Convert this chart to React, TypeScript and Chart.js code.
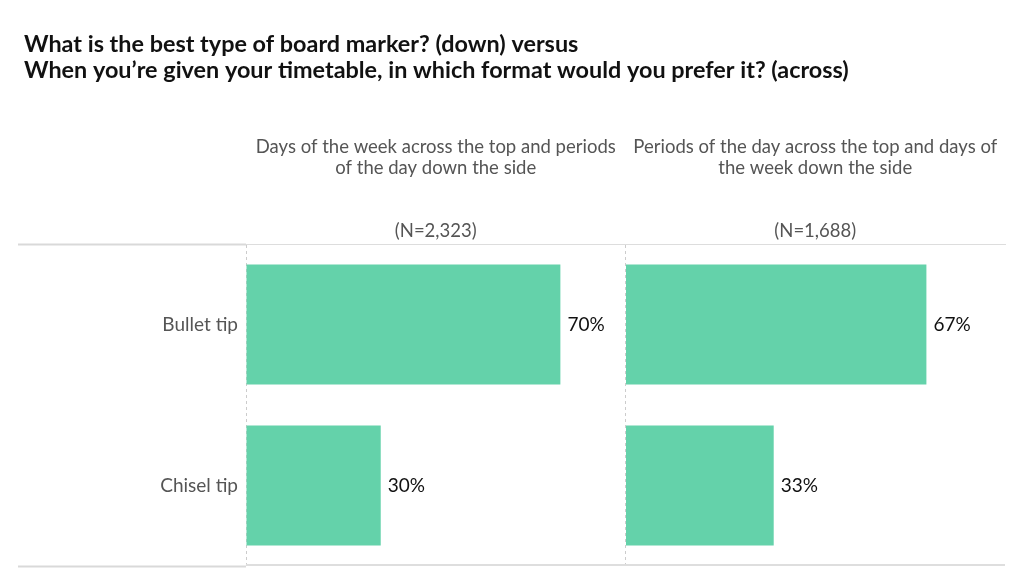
import React, { useEffect, useRef } from 'react';
import { Chart, registerables } from 'chart.js';

Chart.register(...registerables);

const titleLines = [
  'What is the best type of board marker? (down) versus',
  'When you’re given your timetable, in which format would you prefer it? (across)',
];
const categories = ['Bullet tip', 'Chisel tip'];
const daysAcrossHeader = ['Days of the week across the top and periods', 'of the day down the side'];
const periodsAcrossHeader = ['Periods of the day across the top and days of', 'the week down the side'];
const sampleSizes = ['(N=2,323)', '(N=1,688)'];
const daysAcrossValues = [70, 30];
const periodsAcrossValues = [67, 33];

const BAR_COLOR = '#64d2aa';
const FONT = 'Lato, "Noto Sans", sans-serif';

const framePlugin = {
  id: 'frame',
  beforeDatasetsDraw(chart: any) {
    const { ctx, chartArea } = chart;
    const { left, right, top, bottom } = chartArea;
    ctx.save();
    ctx.strokeStyle = '#d9d9d9';
    ctx.lineWidth = 2;
    ctx.beginPath();
    ctx.moveTo(10, top + 0.5);
    ctx.lineTo(left, top + 0.5);
    ctx.moveTo(10, bottom + 0.5);
    ctx.lineTo(left, bottom + 0.5);
    ctx.stroke();
    ctx.strokeStyle = '#dedede';
    ctx.beginPath();
    ctx.moveTo(left, bottom - 1);
    ctx.lineTo(right, bottom - 1);
    ctx.stroke();
    ctx.restore();
  },
};

const valueLabelPlugin = {
  id: 'valueLabels',
  afterDatasetsDraw(chart: any) {
    const { ctx } = chart;
    ctx.save();
    ctx.fillStyle = '#111';
    ctx.font = `19px ${FONT}`;
    ctx.textAlign = 'left';
    ctx.textBaseline = 'middle';
    chart.data.datasets.forEach((ds: any, di: number) => {
      const meta = chart.getDatasetMeta(di);
      meta.data.forEach((el: any, i: number) => {
        ctx.fillText(`${ds.data[i]}%`, el.x + 7, el.y);
      });
    });
    ctx.restore();
  },
};

function panelAxis(header: string[], n: string) {
  return {
    type: 'linear' as const,
    position: 'top' as const,
    stack: 'panels',
    stackWeight: 1,
    min: 0,
    max: 84.5,
    afterBuildTicks: (s: any) => {
      s.ticks = [{ value: 0 }];
    },
    ticks: { display: false },
    grid: { color: '#cccccc', lineWidth: 1, drawTicks: false },
    border: { display: true, color: '#dddddd', width: 1, dash: [3, 3] },
    title: {
      display: true,
      text: [...header, '', '', n],
      color: '#555555',
      font: { family: FONT, size: 18.5, lineHeight: '21px' },
      padding: { top: 0, bottom: 2.5 },
    },
  };
}

export default function App() {
  const canvasRef = useRef<HTMLCanvasElement>(null);

  useEffect(() => {
    if (!canvasRef.current) return;
    const chart = new Chart(canvasRef.current, {
      type: 'bar',
      data: {
        labels: categories,
        datasets: [
          {
            data: daysAcrossValues,
            xAxisID: 'x1',
            yAxisID: 'y',
            backgroundColor: BAR_COLOR,
            grouped: false,
            categoryPercentage: 1,
            barPercentage: 0.745,
          } as any,
          {
            data: periodsAcrossValues,
            xAxisID: 'x2',
            yAxisID: 'y',
            backgroundColor: BAR_COLOR,
            grouped: false,
            categoryPercentage: 1,
            barPercentage: 0.745,
          } as any,
        ],
      },
      options: {
        indexAxis: 'y',
        animation: false,
        responsive: true,
        maintainAspectRatio: false,
        layout: { padding: { left: 16, right: 11, top: 0, bottom: 11 } },
        plugins: {
          legend: { display: false },
          tooltip: { enabled: false },
          title: {
            display: true,
            text: titleLines,
            align: 'start',
            color: '#111111',
            font: { family: FONT, size: 23.4, weight: 'bold', lineHeight: '26px' },
            padding: { top: 23, bottom: 53.5 },
          },
        },
        scales: {
          // top-positioned stacked axes are laid out in reverse order
          x2: panelAxis(periodsAcrossHeader, sampleSizes[1]),
          x1: panelAxis(daysAcrossHeader, sampleSizes[0]),
          y: {
            type: 'category',
            position: 'left',
            offset: true,
            grid: { display: false },
            border: { display: false },
            ticks: { color: '#555555', font: { family: FONT, size: 19 }, padding: 0 },
            afterFit: (s: any) => {
              s.width = 222;
              s.paddingTop = 0;
              s.paddingBottom = 0;
            },
          },
        } as any,
      },
      plugins: [framePlugin, valueLabelPlugin],
    });
    return () => chart.destroy();
  }, []);

  return (
    <div style={{ position: 'relative', width: 1008, height: 569 }}>
      <canvas ref={canvasRef} />
    </div>
  );
}
